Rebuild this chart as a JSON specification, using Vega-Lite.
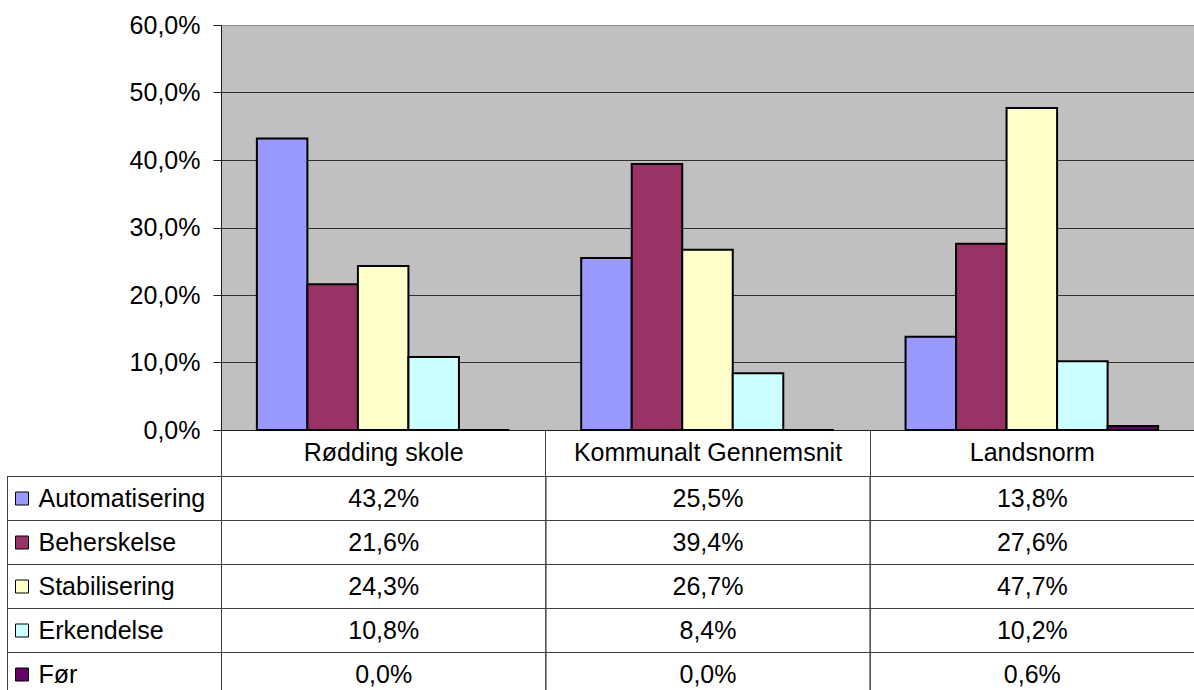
{
  "$schema": "https://vega.github.io/schema/vega-lite/v6.json",
  "padding": {"left": 7, "top": 13, "right": 0, "bottom": 0},
  "background": "white",
  "datasets": {
    "scores": [
      {"category": "Rødding skole", "series": "Automatisering", "value": 0.432},
      {"category": "Rødding skole", "series": "Beherskelse", "value": 0.216},
      {"category": "Rødding skole", "series": "Stabilisering", "value": 0.243},
      {"category": "Rødding skole", "series": "Erkendelse", "value": 0.108},
      {"category": "Rødding skole", "series": "Før", "value": 0.0},
      {"category": "Kommunalt Gennemsnit", "series": "Automatisering", "value": 0.255},
      {"category": "Kommunalt Gennemsnit", "series": "Beherskelse", "value": 0.394},
      {"category": "Kommunalt Gennemsnit", "series": "Stabilisering", "value": 0.267},
      {"category": "Kommunalt Gennemsnit", "series": "Erkendelse", "value": 0.084},
      {"category": "Kommunalt Gennemsnit", "series": "Før", "value": 0.0},
      {"category": "Landsnorm", "series": "Automatisering", "value": 0.138},
      {"category": "Landsnorm", "series": "Beherskelse", "value": 0.276},
      {"category": "Landsnorm", "series": "Stabilisering", "value": 0.477},
      {"category": "Landsnorm", "series": "Erkendelse", "value": 0.102},
      {"category": "Landsnorm", "series": "Før", "value": 0.006}
    ]
  },
  "config": {
    "font": "Liberation Sans",
    "locale": {"number": {"decimal": ",", "thousands": ".", "grouping": [3], "currency": ["", " kr."]}},
    "axis": {"labelFont": "Liberation Sans"},
    "legend": {"labelFont": "Liberation Sans"}
  },
  "columns": 2,
  "spacing": {"row": 46, "column": 0},
  "bounds": "flush",
  "align": "each",
  "concat": [
    {
      "width": 214,
      "height": 405,
      "view": {"stroke": null, "fill": null},
      "data": {"values": []},
      "mark": {"type": "point", "opacity": 0},
      "encoding": {}
    },
    {
      "width": 973,
      "height": 405,
      "view": {"fill": "#C0C0C0", "stroke": null},
      "data": {"name": "scores"},
      "mark": {"type": "bar", "stroke": "black", "strokeWidth": 2},
      "encoding": {
        "x": {
          "field": "category", "type": "nominal",
          "sort": ["Rødding skole", "Kommunalt Gennemsnit", "Landsnorm"],
          "scale": {"paddingInner": 0, "paddingOuter": 0},
          "axis": {
            "title": null, "orient": "bottom", "labelAngle": 0, "labelFontSize": 25,
            "labelColor": "black", "labelPadding": -24, "labelBaseline": "middle",
            "tickSize": 46, "tickBand": "extent", "tickExtra": false, "tickColor": "#404040",
            "domainColor": "#202020", "labelLimit": 0, "labelOverlap": false
          }
        },
        "xOffset": {
          "field": "series", "type": "nominal",
          "sort": ["Automatisering", "Beherskelse", "Stabilisering", "Erkendelse", "Før"],
          "scale": {"paddingInner": 0, "paddingOuter": 0.71}
        },
        "y": {
          "field": "value", "type": "quantitative",
          "scale": {"domain": [0, 0.6], "nice": false},
          "axis": {
            "title": null, "values": [0, 0.1, 0.2, 0.3, 0.4, 0.5, 0.6], "format": ".1%",
            "labelFontSize": 25, "labelColor": "black", "tickSize": 8, "labelPadding": 13,
            "tickColor": "#202020", "domainColor": "#202020", "grid": true, "gridOpacity": 1,
            "gridColor": {"condition": {"test": "datum.value >= 0.59", "value": "#8c8c8c"}, "value": "#303030"}
          }
        },
        "color": {
          "field": "series", "type": "nominal",
          "sort": ["Automatisering", "Beherskelse", "Stabilisering", "Erkendelse", "Før"],
          "scale": {
            "domain": ["Automatisering", "Beherskelse", "Stabilisering", "Erkendelse", "Før"],
            "range": ["#9999FF", "#993366", "#FFFFCC", "#CCFFFF", "#660066"]
          },
          "legend": {
            "title": null, "orient": "none", "legendX": 2.5, "legendY": 461, "direction": "vertical",
            "symbolType": "square", "symbolSize": 169, "symbolStrokeColor": "black", "symbolStrokeWidth": 1,
            "symbolOpacity": 1, "labelFontSize": 25, "labelColor": "black", "labelOffset": 4,
            "rowPadding": 18, "padding": 0, "labelLimit": 0
          }
        }
      }
    },
    {
      "width": 214,
      "height": 214,
      "view": {"stroke": null, "fill": null},
      "data": {"name": "scores"},
      "mark": {"type": "rect", "fill": "transparent", "stroke": "#404040", "strokeWidth": 1, "clip": true},
      "encoding": {
        "x": {"datum": "legend", "type": "nominal", "scale": {"range": [0.5, 214.5], "paddingInner": 0, "paddingOuter": 0}, "axis": null},
        "y": {
          "field": "series", "type": "nominal",
          "sort": ["Automatisering", "Beherskelse", "Stabilisering", "Erkendelse", "Før"],
          "scale": {"range": [0.5, 220.5], "paddingInner": 0, "paddingOuter": 0},
          "axis": null
        }
      }
    },
    {
      "width": 973,
      "height": 214,
      "view": {"stroke": null, "fill": null},
      "data": {"name": "scores"},
      "encoding": {
        "x": {
          "field": "category", "type": "nominal",
          "sort": ["Rødding skole", "Kommunalt Gennemsnit", "Landsnorm"],
          "scale": {"range": [0.5, 973.5], "paddingInner": 0, "paddingOuter": 0},
          "axis": null
        },
        "y": {
          "field": "series", "type": "nominal",
          "sort": ["Automatisering", "Beherskelse", "Stabilisering", "Erkendelse", "Før"],
          "scale": {"range": [0.5, 220.5], "paddingInner": 0, "paddingOuter": 0},
          "axis": null
        }
      },
      "layer": [
        {"mark": {"type": "rect", "fill": "transparent", "stroke": "#404040", "strokeWidth": 1, "clip": true}},
        {
          "mark": {"type": "text", "fontSize": 25, "color": "black", "clip": true},
          "encoding": {"text": {"field": "value", "type": "quantitative", "format": ".1%"}}
        }
      ]
    }
  ]
}
